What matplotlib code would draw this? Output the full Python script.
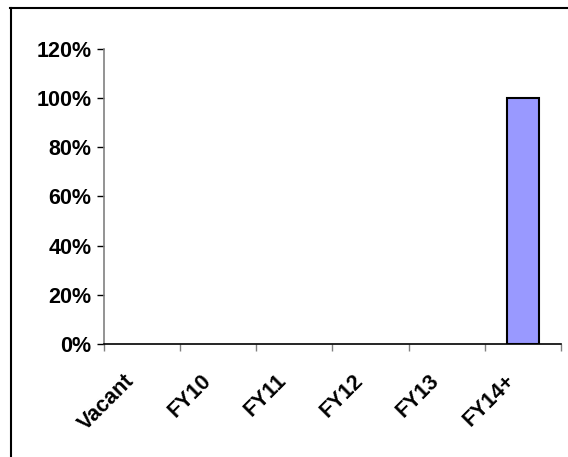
import matplotlib
matplotlib.use("Agg")
import matplotlib.pyplot as plt
from matplotlib.lines import Line2D
from matplotlib.ticker import FuncFormatter, MultipleLocator
from matplotlib.transforms import ScaledTranslation

categories = ["Vacant", "FY10", "FY11", "FY12", "FY13", "FY14+"]
values = [0, 0, 0, 0, 0, 100]

W, H = 568, 457
fig = plt.figure(figsize=(W / 100, H / 100), dpi=100)
plt.rcParams['font.family'] = ['Liberation Sans', 'DejaVu Sans']
FS = 15.5

ax = fig.add_axes([104 / W, 1 - 344 / H, (561 - 104) / W, (344 - 49) / H])
x = list(range(len(categories)))
nz = [i for i, v in enumerate(values) if v > 0]
ax.bar([x[i] for i in nz], [values[i] for i in nz], width=0.41, color="#9999FF",
       edgecolor="black", linewidth=1.5, zorder=3)
ax.set_xlim(-0.5, len(categories) - 0.5)
ax.set_ylim(0, 120)
ax.yaxis.set_major_locator(MultipleLocator(20))
ax.yaxis.set_major_formatter(FuncFormatter(lambda v, p: f"{int(v)}%"))
for s in ["top", "right"]:
    ax.spines[s].set_visible(False)
ax.spines["left"].set_color("#808080")
ax.spines["left"].set_linewidth(1.2)
ax.spines["bottom"].set_linewidth(1.2)
ax.set_xticks([i - 0.5 for i in range(len(categories) + 1)])
ax.set_xticklabels([])
ax.set_xticks(x, minor=True)
ax.set_xticklabels(categories, minor=True, rotation=45, ha="right", rotation_mode="anchor",
                   fontsize=FS, fontweight="bold")
ax.tick_params(axis="x", which="minor", length=0, pad=8)
ax.tick_params(axis="x", which="major", length=5, color="#808080", width=1)
ax.tick_params(axis="y", length=5, color="black", width=1, labelsize=FS, pad=4)
for t in ax.get_yticklabels():
    t.set_fontweight("bold")
off = ScaledTranslation(-18 / 100, -15 / 100, fig.dpi_scale_trans)
for t in ax.get_xticklabels(minor=True):
    t.set_transform(t.get_transform() + off)

# outer frame (left and top only visible)
fig.add_artist(Line2D([10.5 / W, 10.5 / W], [0, 1 - 7.5 / H], transform=fig.transFigure, color="black", lw=1.5))
fig.add_artist(Line2D([10 / W, 1], [1 - 7.5 / H, 1 - 7.5 / H], transform=fig.transFigure, color="black", lw=1.5))

fig.savefig("out.png", dpi=100)
